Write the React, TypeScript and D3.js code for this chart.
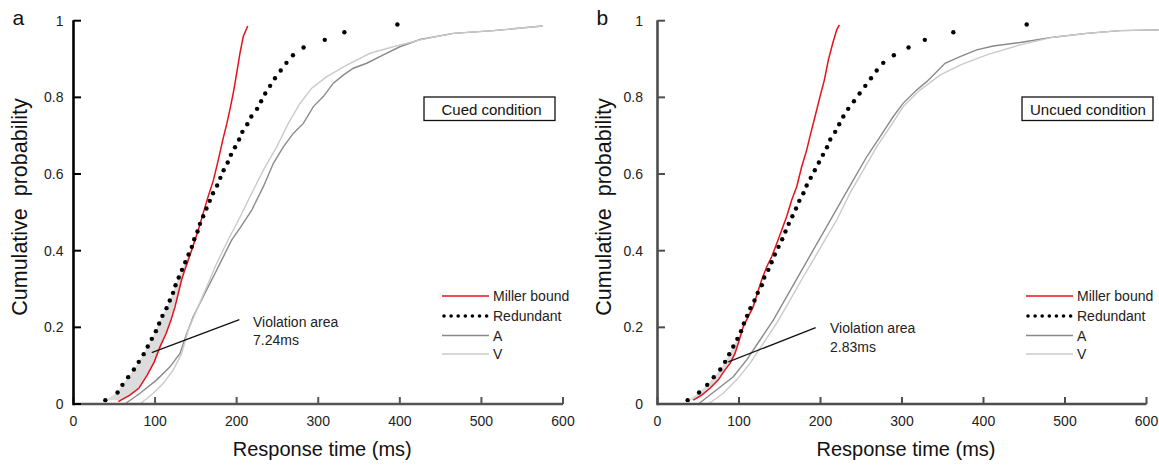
import React from "react";
import * as d3 from "d3";

// ---------- data ----------
const xTicks = [0, 100, 200, 300, 400, 500, 600];
const yTicks = [0, 0.2, 0.4, 0.6, 0.8, 1];
const yTickLabels = ["0", "0.2", "0.4", "0.6", "0.8", "1"];

const quantileLevels = [
  0.01, 0.03, 0.05, 0.07, 0.09, 0.11, 0.13, 0.15, 0.17, 0.19,
  0.21, 0.23, 0.25, 0.27, 0.29, 0.31, 0.33, 0.35, 0.37, 0.39,
  0.41, 0.43, 0.45, 0.47, 0.49, 0.51, 0.53, 0.55, 0.57, 0.59,
  0.61, 0.63, 0.65, 0.67, 0.69, 0.71, 0.73, 0.75, 0.77, 0.79,
  0.81, 0.83, 0.85, 0.87, 0.89, 0.91, 0.93, 0.95, 0.97, 0.99,
];

// Cued condition (panel a)
const redundantCuedMs = [
  39, 54, 60, 67, 74, 80, 86, 91, 96, 101,
  105, 109, 114, 118, 122, 125, 129, 133, 137, 141,
  145, 148, 152, 155, 159, 163, 167, 171, 176, 180,
  184, 189, 193, 198, 203, 207, 213, 218, 225, 230,
  235, 241, 247, 254, 261, 269, 282, 308, 332, 397,
];
const millerCuedMs = [55, 69, 80, 90.5, 99, 106, 113.5, 119.5, 124.5, 128.5, 132.5, 136.5, 145, 153, 159, 165, 171.5, 177.5, 183, 188, 192.5, 196.5, 200, 204, 208, 213.5];
const millerCuedP = [0.006, 0.023, 0.041, 0.076, 0.11, 0.149, 0.184, 0.219, 0.254, 0.289, 0.324, 0.35, 0.402, 0.454, 0.498, 0.541, 0.584, 0.637, 0.689, 0.732, 0.776, 0.819, 0.863, 0.915, 0.958, 0.986];
const aCuedMs = [63, 81.5, 102, 118.3, 130.5, 138.8, 146.8, 159, 171.4, 183.6, 194, 204, 218.5, 232.7, 245, 257.2, 269.4, 281.7, 294, 306.2, 318.5, 330.7, 343, 359.4, 379.8, 400, 424.7, 465.6, 514.6, 575];
const aCuedP = [0, 0.028, 0.063, 0.097, 0.132, 0.184, 0.228, 0.28, 0.332, 0.384, 0.428, 0.459, 0.506, 0.567, 0.628, 0.671, 0.706, 0.732, 0.776, 0.802, 0.837, 0.858, 0.876, 0.889, 0.911, 0.932, 0.951, 0.967, 0.974, 0.986];
const vCuedMs = [81.5, 97.8, 110.1, 122.3, 132.6, 140.7, 151, 163.3, 175.5, 189.5, 204.1, 216.4, 232.7, 249.1, 263.3, 277.6, 292, 310.4, 334.9, 363.4, 392, 424.7, 465.6, 514.6, 574];
const vCuedP = [0, 0.028, 0.054, 0.089, 0.132, 0.193, 0.245, 0.306, 0.367, 0.428, 0.488, 0.541, 0.61, 0.671, 0.732, 0.784, 0.824, 0.854, 0.884, 0.915, 0.932, 0.95, 0.967, 0.974, 0.986];

// Uncued condition (panel b)
const redundantUncuedMs = [
  37, 51, 61, 69, 77, 83, 88, 93, 98, 102.5,
  106, 110, 114, 119, 123, 128, 131, 136, 140, 144,
  148.5, 153, 157, 161, 165.5, 170, 174, 179, 183, 188,
  193, 198, 203, 208, 212, 218, 223, 228, 234, 241,
  248, 255, 262, 269, 277, 290, 308, 328, 363, 453,
];
const millerUncuedMs = [43.9, 54.2, 64.4, 74.6, 82.8, 89, 95.1, 100.4, 105.3, 111.4, 117.5, 122.5, 127.9, 134, 140.1, 146.3, 152.4, 158.5, 164.7, 170.8, 176.9, 183.1, 188, 193.3, 199.4, 204.7, 209.6, 215, 219.9, 223.1];
const millerUncuedP = [0.01, 0.023, 0.041, 0.063, 0.089, 0.106, 0.132, 0.167, 0.202, 0.228, 0.254, 0.289, 0.324, 0.358, 0.384, 0.419, 0.454, 0.489, 0.532, 0.567, 0.619, 0.663, 0.706, 0.75, 0.802, 0.845, 0.897, 0.941, 0.976, 0.989];
const aUncuedMs = [50.1, 72.6, 93, 109.4, 125.8, 142.1, 158.5, 174.8, 191.2, 207.6, 224, 240.2, 256.7, 273, 289.3, 301.6, 318, 330.3, 342.6, 352.8, 371.2, 391.7, 412, 444.8, 485.6, 526.6, 567.5, 615];
const aUncuedP = [0, 0.037, 0.071, 0.115, 0.167, 0.219, 0.28, 0.341, 0.402, 0.463, 0.524, 0.584, 0.645, 0.697, 0.75, 0.785, 0.819, 0.841, 0.867, 0.889, 0.906, 0.924, 0.934, 0.943, 0.957, 0.967, 0.974, 0.976];
const vUncuedMs = [62.3, 80.7, 97.2, 113.5, 129.8, 146.3, 162.6, 178.9, 191.2, 205.5, 219.9, 236.2, 252.5, 269, 285.3, 301.6, 322.1, 346.6, 371.2, 403.9, 444.8, 485.6, 526.6, 567.5, 615];
const vUncuedP = [0, 0.028, 0.063, 0.106, 0.158, 0.211, 0.271, 0.332, 0.376, 0.428, 0.48, 0.55, 0.61, 0.671, 0.723, 0.776, 0.819, 0.858, 0.884, 0.911, 0.937, 0.957, 0.967, 0.974, 0.976];

const legendLabels = ["Miller bound", "Redundant", "A", "V"];
const violationLabels = ["7.24ms", "2.83ms"];
const conditionLabels = ["Cued condition", "Uncued condition"];

// ---------- styling ----------
const FONT = "'Liberation Sans', Arial, Helvetica, sans-serif";
const RED = "#e8101a";
const A_COLOR = "#8a8a8a";
const V_COLOR = "#cacaca";
const FILL = "#dcdcdc";

type Series = { ms: number[]; p: number[] };

type PanelCfg = {
  letter: string;
  x0: number;
  x1: number;
  yAxisColor: string;
  xAxisColor: string;
  labelGap: number;
  redundant: number[];
  miller: Series;
  a: Series;
  v: Series;
  condition: string;
  boxX: number;
  boxTextX: number;
  violation: string;
  pointer: [number, number, number, number];
  annot: [number, number];
};

const Y0 = 404;
const Y1 = 20.7;

function violationArea(rMs: number[], rP: number[], mMs: number[], mP: number[]) {
  const fr = d3.scaleLinear().domain(rP).range(rMs);
  const fm = d3.scaleLinear().domain(mP).range(mMs);
  const lo = Math.max(rP[0], mP[0]);
  const grid = Array.from(new Set([...rP, ...mP]))
    .filter((p) => p >= lo && p <= 0.6)
    .sort((a, b) => a - b);
  const pts: { p: number; xr: number; xm: number }[] = [];
  let prev: { p: number; d: number } | null = null;
  for (const p of grid) {
    const d = fm(p) - fr(p);
    if (d <= 0) {
      if (prev && prev.d > 0) {
        const t = prev.d / (prev.d - d);
        const pc = prev.p + t * (p - prev.p);
        const xc = fr(pc);
        pts.push({ p: pc, xr: xc, xm: xc });
      }
      if (pts.length) break;
      prev = { p, d };
      continue;
    }
    pts.push({ p, xr: fr(p), xm: fm(p) });
    prev = { p, d };
  }
  return pts;
}

function Panel({ c }: { c: PanelCfg }) {
  const x = d3.scaleLinear().domain([0, 600]).range([c.x0, c.x1]);
  const y = d3.scaleLinear().domain([0, 1]).range([Y0, Y1]);
  const line = d3
    .line<[number, number]>()
    .x((d) => x(d[0]))
    .y((d) => y(d[1]));
  const toPts = (s: Series) => s.ms.map((m, i) => [m, s.p[i]] as [number, number]);
  const fillPts = violationArea(c.redundant, quantileLevels, c.miller.ms, c.miller.p);
  const area = d3
    .area<{ p: number; xr: number; xm: number }>()
    .y((d) => y(d.p))
    .x0((d) => x(d.xr))
    .x1((d) => x(d.xm));

  const legX = c.x0 + 368.5;
  const legRows = [296, 316, 335.5, 354];
  const midX = (c.x0 + c.x1) / 2 + 4;

  return (
    <g>
      <text x={c.x0 - 61} y={25} fontSize={21} fontFamily={FONT} fill="#111">
        {c.letter}
      </text>

      <path d={area(fillPts) || ""} fill={FILL} stroke="none" />

      <path d={line(toPts(c.a)) || ""} fill="none" stroke={A_COLOR} strokeWidth={1.4} />
      <path d={line(toPts(c.v)) || ""} fill="none" stroke={V_COLOR} strokeWidth={1.4} />
      <path d={line(toPts(c.miller)) || ""} fill="none" stroke={RED} strokeWidth={1.5} />
      {c.redundant.map((m, i) => (
        <circle key={i} cx={x(m)} cy={y(quantileLevels[i])} r={2.2} fill="#000" />
      ))}

      <line x1={c.x0} x2={c.x1} y1={Y0} y2={Y0} stroke={c.xAxisColor} strokeWidth={2.6} />
      {xTicks.map((t) => (
        <g key={t}>
          <line x1={x(t)} x2={x(t)} y1={Y0} y2={Y0 - 7} stroke={c.xAxisColor} strokeWidth={2} />
          <text x={x(t)} y={426} textAnchor="middle" fontSize={14} fontFamily={FONT} fill="#222">
            {t}
          </text>
        </g>
      ))}
      <line x1={c.x0} x2={c.x0} y1={Y0 + 1.3} y2={Y1 - 0.5} stroke={c.yAxisColor} strokeWidth={2.6} />
      {yTicks.map((t, i) => (
        <g key={t}>
          <line x1={c.x0} x2={c.x0 + 7.5} y1={y(t)} y2={y(t)} stroke={c.yAxisColor} strokeWidth={2} />
          <text
            x={c.x0 - c.labelGap}
            y={y(t) + 5}
            textAnchor="end"
            fontSize={14}
            fontFamily={FONT}
            fill="#222"
          >
            {yTickLabels[i]}
          </text>
        </g>
      ))}

      <text x={midX} y={456} textAnchor="middle" fontSize={20} fontFamily={FONT} fill="#111">
        Response time (ms)
      </text>
      <text
        transform={`translate(${c.x0 - 47},${207}) rotate(-90)`}
        textAnchor="middle"
        fontSize={21.5}
        fontFamily={FONT}
        fill="#111"
        style={{ whiteSpace: "pre" }}
      >
        {"Cumulative  probability"}
      </text>

      <rect x={c.boxX} y={97} width={131} height={23.5} fill="#fff" stroke="#111" strokeWidth={1.3} />
      <text x={c.boxTextX} y={114.5} fontSize={15} fontFamily={FONT} fill="#111">
        {c.condition}
      </text>

      <line x1={legX} x2={legX + 47} y1={legRows[0]} y2={legRows[0]} stroke={RED} strokeWidth={1.6} />
      {d3.range(7).map((k) => (
        <circle key={k} cx={legX + 2 + k * 7.1} cy={legRows[1]} r={1.8} fill="#000" />
      ))}
      <line x1={legX} x2={legX + 47} y1={legRows[2]} y2={legRows[2]} stroke={A_COLOR} strokeWidth={1.4} />
      <line x1={legX} x2={legX + 47} y1={legRows[3]} y2={legRows[3]} stroke={V_COLOR} strokeWidth={1.4} />
      {legendLabels.map((l, i) => (
        <text key={l} x={legX + 51} y={legRows[i] + 5} fontSize={14} fontFamily={FONT} fill="#222">
          {l}
        </text>
      ))}

      <line
        x1={x(c.pointer[0])}
        y1={y(c.pointer[1])}
        x2={x(c.pointer[2])}
        y2={y(c.pointer[3])}
        stroke="#111"
        strokeWidth={1.3}
      />
      <text x={x(c.annot[0])} y={y(c.annot[1])} fontSize={14} fontFamily={FONT} fill="#222">
        Violation area
      </text>
      <text x={x(c.annot[0])} y={y(c.annot[1]) + 18.5} fontSize={14} fontFamily={FONT} fill="#222">
        {c.violation}
      </text>
    </g>
  );
}

const panels: PanelCfg[] = [
  {
    letter: "a",
    x0: 73.5,
    x1: 563,
    yAxisColor: "#000",
    xAxisColor: "#555",
    labelGap: 10,
    redundant: redundantCuedMs,
    miller: { ms: millerCuedMs, p: millerCuedP },
    a: { ms: aCuedMs, p: aCuedP },
    v: { ms: vCuedMs, p: vCuedP },
    condition: conditionLabels[0],
    boxX: 424,
    boxTextX: 441.5,
    violation: violationLabels[0],
    pointer: [95.9, 0.134, 203.3, 0.22],
    annot: [220, 0.2017],
  },
  {
    letter: "b",
    x0: 657.5,
    x1: 1146.5,
    yAxisColor: "#4d4d4d",
    xAxisColor: "#4d4d4d",
    labelGap: 14.5,
    redundant: redundantUncuedMs,
    miller: { ms: millerUncuedMs, p: millerUncuedP },
    a: { ms: aUncuedMs, p: aUncuedP },
    v: { ms: vUncuedMs, p: vUncuedP },
    condition: conditionLabels[1],
    boxX: 1022,
    boxTextX: 1030,
    violation: violationLabels[1],
    pointer: [86.9, 0.11, 194.1, 0.199],
    annot: [211.7, 0.184],
  },
];

export default function App() {
  return (
    <svg
      width={1159}
      height={466}
      viewBox="0 0 1159 466"
      style={{ position: "absolute", left: 0, top: 0, background: "#fff" }}
    >
      <rect x={0} y={0} width={1159} height={466} fill="#fff" />
      {panels.map((p) => (
        <Panel key={p.letter} c={p} />
      ))}
    </svg>
  );
}
